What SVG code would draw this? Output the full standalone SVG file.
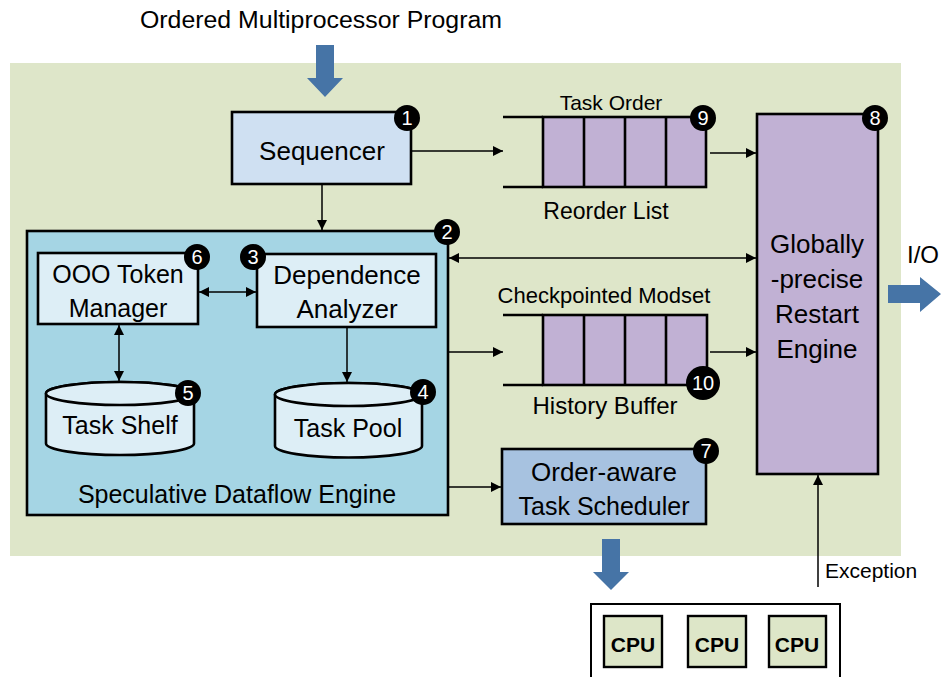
<svg xmlns="http://www.w3.org/2000/svg" width="943" height="677" viewBox="0 0 943 677">
<defs>
<marker id="ah" viewBox="0 0 10 10" refX="10" refY="5" markerWidth="11" markerHeight="10" markerUnits="userSpaceOnUse" orient="auto-start-reverse">
<path d="M0,0 L10,5 L0,10 Z" fill="#000"/>
</marker>
<style>
text{font-family:"Liberation Sans",Arial,sans-serif;fill:#000}
.box{stroke:#000;stroke-width:2.6}
.ln{stroke:#000;stroke-width:1.5;fill:none}
.badge circle{fill:#000}
.badge text{fill:#fff;font-size:20px;text-anchor:middle}
.c{text-anchor:middle}
.q{fill:#c1b1d4;stroke:#000;stroke-width:2.6}
.bl{fill:#4674a6}
.cpu{fill:#dde6c8;stroke:#000;stroke-width:2.4}
</style>
</defs>
<rect x="0" y="0" width="943" height="677" fill="#fff"/>
<rect id="bg" x="10" y="63" width="891" height="493" fill="#dee6c9"/>

<g id="input">
<text x="321" y="28" class="c" font-size="23" textLength="362" lengthAdjust="spacingAndGlyphs">Ordered Multiprocessor Program</text>
<path class="bl" d="M316,45 H334 V78 H343 L325,97 L307,78 H316 Z"/>
</g>

<g id="sequencer">
<rect class="box" x="232" y="112" width="179" height="72" fill="#cfe0f2"/>
<text x="322" y="160" class="c" font-size="26">Sequencer</text>
<g class="badge"><circle cx="407" cy="118" r="13"/><text x="407" y="125">1</text></g>
</g>

<g id="reorder-list">
<text x="611" y="110" class="c" font-size="21">Task Order</text>
<line class="ln" x1="503" y1="117" x2="543" y2="117" style="stroke-width:2.6"/>
<line class="ln" x1="503" y1="187" x2="543" y2="187" style="stroke-width:2.6"/>
<rect class="q" x="543" y="117" width="163" height="70"/>
<line class="ln" x1="584" y1="117" x2="584" y2="187" style="stroke-width:2.6"/>
<line class="ln" x1="625" y1="117" x2="625" y2="187" style="stroke-width:2.6"/>
<line class="ln" x1="666" y1="117" x2="666" y2="187" style="stroke-width:2.6"/>
<text x="606" y="219" class="c" font-size="23">Reorder List</text>
<g class="badge"><circle cx="703" cy="118" r="13"/><text x="703" y="125">9</text></g>
</g>

<g id="restart-engine">
<rect class="box" x="757" y="114" width="121" height="360" fill="#c1b1d4"/>
<text x="817" y="253" class="c" font-size="26">Globally</text>
<text x="817" y="288" class="c" font-size="26">-precise</text>
<text x="817" y="323" class="c" font-size="26">Restart</text>
<text x="817" y="358" class="c" font-size="26">Engine</text>
<g class="badge"><circle cx="875" cy="118" r="13"/><text x="875" y="125">8</text></g>
</g>

<g id="io">
<text x="907" y="263" font-size="24">I/O</text>
<path class="bl" d="M888,285 H920 V277 L941,294 L920,312 V303 H888 Z"/>
</g>

<g id="sde">
<rect class="box" x="27" y="231" width="421" height="284" fill="#a5d5e4"/>
<text x="237" y="503" class="c" font-size="25">Speculative Dataflow Engine</text>
<g class="badge"><circle cx="447" cy="232" r="13"/><text x="447" y="239">2</text></g>
</g>

<g id="token-manager">
<rect class="box" x="38" y="253" width="160" height="71" fill="#ddeef6"/>
<text x="118" y="283" class="c" font-size="25">OOO Token</text>
<text x="118" y="317" class="c" font-size="25">Manager</text>
<g class="badge"><circle cx="197" cy="257" r="13"/><text x="197" y="264">6</text></g>
</g>

<g id="dependence-analyzer">
<rect class="box" x="257" y="254" width="179" height="73" fill="#ddeef6"/>
<text x="347" y="284" class="c" font-size="26">Dependence</text>
<text x="347" y="318" class="c" font-size="26">Analyzer</text>
<g class="badge"><circle cx="253" cy="257" r="13"/><text x="253" y="264">3</text></g>
</g>

<g id="task-shelf">
<path class="box" fill="#ddeef6" d="M46,393.5 V443.5 A74,11.5 0 0 0 194,443.5 V393.5 A74,11.5 0 0 0 46,393.5 Z"/>
<ellipse class="box" fill="#ddeef6" cx="120" cy="393.5" rx="74" ry="11.5"/>
<text x="120" y="434" class="c" font-size="25">Task Shelf</text>
<g class="badge"><circle cx="188" cy="393" r="13"/><text x="188" y="400">5</text></g>
</g>

<g id="task-pool">
<path class="box" fill="#ddeef6" d="M275,394.5 V446 A73.5,11.5 0 0 0 422,446 V394.5 A73.5,11.5 0 0 0 275,394.5 Z"/>
<ellipse class="box" fill="#ddeef6" cx="348.5" cy="394.5" rx="73.5" ry="11.5"/>
<text x="348" y="437" class="c" font-size="25">Task Pool</text>
<g class="badge"><circle cx="423" cy="392" r="13"/><text x="423" y="399">4</text></g>
</g>

<g id="history-buffer">
<text x="604" y="303" class="c" font-size="22">Checkpointed Modset</text>
<line class="ln" x1="503" y1="315" x2="543" y2="315" style="stroke-width:2.6"/>
<line class="ln" x1="503" y1="385" x2="543" y2="385" style="stroke-width:2.6"/>
<rect class="q" x="543" y="315" width="164" height="70"/>
<line class="ln" x1="584" y1="315" x2="584" y2="385" style="stroke-width:2.6"/>
<line class="ln" x1="625" y1="315" x2="625" y2="385" style="stroke-width:2.6"/>
<line class="ln" x1="666" y1="315" x2="666" y2="385" style="stroke-width:2.6"/>
<text x="605" y="414" class="c" font-size="24">History Buffer</text>
<g class="badge"><circle cx="703" cy="383" r="17"/><text x="703" y="390">10</text></g>
</g>

<g id="scheduler">
<rect class="box" x="502" y="449" width="204" height="75" fill="#a7c2e0"/>
<text x="604" y="481" class="c" font-size="26">Order-aware</text>
<text x="604" y="515" class="c" font-size="25">Task Scheduler</text>
<g class="badge"><circle cx="706" cy="451" r="13"/><text x="706" y="458">7</text></g>
</g>

<g id="cpus">
<path d="M591,677 V604 H840 V677" fill="#fff" stroke="#000" stroke-width="2"/>
<rect class="cpu" x="604" y="616" width="58" height="51"/>
<rect class="cpu" x="688" y="616" width="58" height="51"/>
<rect class="cpu" x="769" y="616" width="57" height="51"/>
<text x="633" y="652" class="c" font-size="21" font-weight="bold">CPU</text>
<text x="717" y="652" class="c" font-size="21" font-weight="bold">CPU</text>
<text x="797" y="652" class="c" font-size="21" font-weight="bold">CPU</text>
</g>

<g id="connectors">
<line class="ln" x1="411" y1="151" x2="503" y2="151" marker-end="url(#ah)"/>
<line class="ln" x1="322" y1="184" x2="322" y2="230" marker-end="url(#ah)"/>
<line class="ln" x1="710" y1="153" x2="756" y2="153" marker-end="url(#ah)"/>
<line class="ln" x1="449" y1="258" x2="756" y2="258" marker-start="url(#ah)" marker-end="url(#ah)"/>
<line class="ln" x1="199" y1="292" x2="256" y2="292" marker-start="url(#ah)" marker-end="url(#ah)"/>
<line class="ln" x1="119" y1="325" x2="119" y2="381" marker-start="url(#ah)" marker-end="url(#ah)"/>
<line class="ln" x1="347" y1="327" x2="347" y2="382" marker-end="url(#ah)"/>
<line class="ln" x1="449" y1="352" x2="503" y2="352" marker-end="url(#ah)"/>
<line class="ln" x1="710" y1="352" x2="756" y2="352" marker-end="url(#ah)"/>
<line class="ln" x1="449" y1="487" x2="501" y2="487" marker-end="url(#ah)"/>
<line class="ln" x1="818" y1="587" x2="818" y2="475" marker-end="url(#ah)"/>
<text x="825" y="578" font-size="21">Exception</text>
<path class="bl" d="M602,539 H620 V572 H629 L611,590 L593,572 H602 Z"/>
</g>
</svg>
